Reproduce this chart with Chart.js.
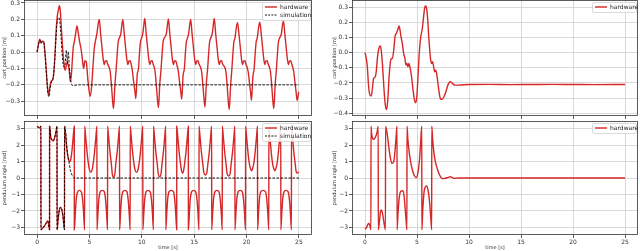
<!DOCTYPE html>
<html><head><meta charset="utf-8">
<script src="https://cdn.jsdelivr.net/npm/chart.js@4.4.1/dist/chart.umd.min.js"></script>
<style>
html,body{margin:0;padding:0;background:#fff;width:640px;height:251px;overflow:hidden}
canvas{position:absolute}
</style></head><body>
<canvas id="tl" width="320" height="119" style="left:0px;top:0px"></canvas>
<canvas id="bl" width="320" height="132" style="left:0px;top:119px"></canvas>
<canvas id="tr" width="310" height="119" style="left:330px;top:0px"></canvas>
<canvas id="br" width="310" height="132" style="left:330px;top:119px"></canvas>
<script>
// ---------- data (time [s], value) ----------
const timeTicks = [0, 5, 10, 15, 20, 25];
const cartTicksLeft = [-0.3, -0.2, -0.1, 0.0, 0.1, 0.2, 0.3];
const cartTicksRight = [-0.4, -0.3, -0.2, -0.1, 0.0, 0.1, 0.2, 0.3];
const angleTicks = [-3, -2, -1, 0, 1, 2, 3];

const cartHardwareLeft = [[0,0.0],[0.095,0.033],[0.254,0.078],[0.381,0.057],[0.508,0.067],[0.635,0.063],[0.762,-0.01],[0.889,-0.12],[1.016,-0.23],[1.111,-0.26],[1.206,-0.216],[1.333,-0.18],[1.492,-0.167],[1.587,-0.13],[1.714,-0.01],[1.81,0.124],[1.905,0.206],[2.032,0.257],[2.127,0.284],[2.222,0.247],[2.349,0.114],[2.476,-0.008],[2.603,-0.09],[2.698,-0.11],[2.794,-0.08],[2.889,-0.06],[2.984,-0.08],[3.079,-0.12],[3.175,-0.18],[3.27,-0.14],[3.365,-0.05],[3.46,0.033],[3.556,0.063],[3.683,0.114],[3.81,0.16],[3.937,0.114],[4.063,0.063],[4.19,0.022],[4.317,-0.04],[4.444,-0.1],[4.571,-0.053],[4.698,-0.06],[4.825,-0.15],[4.952,-0.23],[5.079,-0.27],[5.206,-0.21],[5.333,-0.09],[5.46,0.022],[5.587,0.073],[5.714,0.114],[5.841,0.176],[5.937,0.2],
[6.063,0.114],[6.19,0.033],[6.317,-0.045],[6.413,-0.076],[6.508,-0.055],[6.635,-0.053],[6.73,-0.073],[6.984,-0.12],[7.111,-0.212],[7.206,-0.294],[7.302,-0.345],
[7.429,-0.202],[7.556,-0.1],[7.651,-0.008],[7.746,0.063],[7.841,0.084],[8.0,0.114],[8.095,0.165],[8.19,0.2],
[8.317,0.114],[8.444,0.033],[8.571,-0.045],[8.667,-0.076],[8.762,-0.055],[8.889,-0.053],[8.984,-0.073],[9.111,-0.12],[9.238,-0.192],[9.333,-0.233],[9.429,-0.284],
[9.556,-0.141],[9.683,-0.1],[9.778,-0.008],[9.873,0.063],[9.968,0.084],[10.095,0.114],[10.19,0.165],[10.286,0.206],
[10.413,0.114],[10.54,0.033],[10.667,-0.045],[10.762,-0.076],[10.857,-0.055],[10.984,-0.053],[11.079,-0.073],[11.27,-0.12],[11.397,-0.212],[11.492,-0.288],[11.587,-0.339],
[11.714,-0.196],[11.841,-0.1],[11.937,-0.008],[12.032,0.063],[12.127,0.084],[12.349,0.114],[12.444,0.165],[12.54,0.202],
[12.667,0.114],[12.794,0.033],[12.921,-0.045],[13.016,-0.076],[13.111,-0.055],[13.238,-0.053],[13.333,-0.073],[13.492,-0.12],[13.619,-0.192],[13.714,-0.238],[13.81,-0.288],
[13.937,-0.145],[14.063,-0.1],[14.159,-0.008],[14.254,0.063],[14.349,0.084],[14.476,0.114],[14.571,0.165],[14.667,0.2],
[14.794,0.114],[14.921,0.033],[15.048,-0.045],[15.143,-0.076],[15.238,-0.055],[15.365,-0.053],[15.46,-0.073],[15.714,-0.12],[15.841,-0.212],[15.937,-0.284],[16.032,-0.335],
[16.159,-0.192],[16.286,-0.1],[16.381,-0.008],[16.476,0.063],[16.571,0.084],[16.73,0.114],[16.825,0.165],[16.921,0.206],
[17.048,0.114],[17.175,0.033],[17.302,-0.045],[17.397,-0.076],[17.492,-0.055],[17.619,-0.053],[17.714,-0.073],[18.032,-0.12],[18.159,-0.212],[18.254,-0.3],[18.349,-0.351],
[18.476,-0.208],[18.603,-0.1],[18.698,-0.008],[18.794,0.063],[18.889,0.084],[18.952,0.114],[19.048,0.16],[19.143,0.18],
[19.27,0.114],[19.397,0.033],[19.524,-0.045],[19.619,-0.076],[19.714,-0.055],[19.841,-0.053],[19.937,-0.073],[20.159,-0.12],[20.286,-0.192],[20.381,-0.243],[20.476,-0.294],
[20.603,-0.151],[20.73,-0.1],[20.825,-0.008],[20.921,0.063],[21.016,0.084],[21.079,0.114],[21.175,0.16],[21.27,0.182],
[21.397,0.114],[21.524,0.033],[21.651,-0.045],[21.746,-0.076],[21.841,-0.055],[21.968,-0.053],[22.063,-0.073],[22.286,-0.12],[22.413,-0.212],[22.508,-0.294],[22.603,-0.345],
[22.73,-0.202],[22.857,-0.1],[22.952,-0.008],[23.048,0.063],[23.143,0.084],[23.333,0.114],[23.429,0.165],[23.524,0.19],
[23.651,0.114],[23.778,0.033],[23.905,-0.045],[24.0,-0.076],[24.095,-0.055],[24.222,-0.053],[24.317,-0.073],[24.508,-0.12],[24.635,-0.192],[24.73,-0.243],[24.825,-0.294],[24.984,-0.243]];

const cartSimulationLeft = [[0,0.0],[0.095,0.033],[0.254,0.073],[0.381,0.053],[0.508,0.065],[0.635,0.059],[0.762,-0.018],[0.889,-0.135],[1.016,-0.243],[1.143,-0.273],[1.238,-0.229],[1.365,-0.182],[1.492,-0.167],[1.587,-0.135],[1.714,-0.018],[1.81,0.094],[1.905,0.176],[2.0,0.206],[2.063,0.212],[2.159,0.196],[2.286,0.094],[2.413,-0.029],[2.54,-0.09],[2.667,-0.08],[2.794,0.012],[2.889,-0.069],[2.984,0.002],[3.079,-0.09],[3.238,-0.182],[3.397,-0.204],[4,-0.2],[6,-0.2],[8,-0.2],[10,-0.2],[12,-0.2],[14,-0.2],[16,-0.2],[18,-0.2],[20,-0.2],[22,-0.2],[24,-0.2],[25,-0.2]];

const angleHardwareLeft = [[0,3.14],[0.127,3.07],[0.254,3.03],[0.365,3.14],[0.368,-3.14],[0.508,-3.05],[0.698,-2.91],[0.889,-2.71],[1.016,-2.61],[1.111,-2.85],[1.19,-3.14],[1.194,3.14],[1.302,2.51],[1.429,2.30],[1.556,2.26],[1.683,2.46],[1.81,2.81],[1.905,3.14],[1.908,-3.14],[2.0,-2.55],[2.127,-1.94],[2.222,-1.78],[2.349,-1.90],[2.476,-2.34],[2.619,-3.14],[2.622,3.14],[2.73,2.61],[2.825,1.90],[2.921,1.39],[3.016,1.09],[3.111,0.99],[3.206,1.09],[3.302,1.49],[3.397,2.10],[3.492,2.81],[3.552,3.14],
[3.556,-3.14],[3.651,-2.14],[3.746,-1.23],[3.873,-0.83],[4.048,-0.75],[4.222,-0.83],[4.349,-1.33],[4.444,-2.14],[4.54,-3.14],
[4.543,3.14],[4.638,2.51],[4.765,1.6],[4.893,0.9],[5.003,0.49],[5.129,0.34],[5.254,0.49],[5.364,0.9],[5.492,1.6],[5.619,2.51],[5.714,3.14],
[5.717,-3.14],[5.81,-2.14],[5.905,-1.23],[6.032,-0.83],[6.222,-0.75],[6.413,-0.83],[6.54,-1.33],[6.635,-2.14],[6.73,-3.14],
[6.733,3.14],[6.828,2.51],[6.955,1.6],[7.083,0.9],[7.193,0.19],[7.303,0.04],[7.413,0.19],[7.523,0.9],[7.651,1.6],[7.778,2.51],[7.873,3.14],
[7.876,-3.14],[7.968,-2.14],[8.063,-1.23],[8.19,-0.83],[8.381,-0.75],[8.571,-0.83],[8.698,-1.33],[8.794,-2.14],[8.889,-3.14],
[8.892,3.14],[8.987,2.51],[9.114,1.6],[9.242,0.9],[9.352,0.49],[9.494,0.34],[9.635,0.49],[9.745,0.9],[9.873,1.6],[10.0,2.51],[10.095,3.14],
[10.098,-3.14],[10.19,-2.14],[10.286,-1.23],[10.413,-0.83],[10.603,-0.75],[10.794,-0.83],[10.921,-1.33],[11.016,-2.14],[11.111,-3.14],
[11.114,3.14],[11.209,2.51],[11.336,1.6],[11.464,0.9],[11.574,0.23],[11.7,0.08],[11.826,0.23],[11.936,0.9],[12.064,1.6],[12.191,2.51],[12.286,3.14],
[12.289,-3.14],[12.381,-2.14],[12.476,-1.23],[12.603,-0.83],[12.81,-0.75],[13.016,-0.83],[13.143,-1.33],[13.238,-2.14],[13.333,-3.14],
[13.337,3.14],[13.432,2.51],[13.559,1.6],[13.687,0.9],[13.797,0.43],[13.89,0.28],[13.984,0.43],[14.094,0.9],[14.222,1.6],[14.349,2.51],[14.444,3.14],
[14.448,-3.14],[14.54,-2.14],[14.635,-1.23],[14.762,-0.83],[14.952,-0.75],[15.143,-0.83],[15.27,-1.33],[15.365,-2.14],[15.46,-3.14],
[15.463,3.14],[15.558,2.51],[15.685,1.6],[15.813,0.9],[15.923,0.33],[16.065,0.18],[16.207,0.33],[16.317,0.9],[16.445,1.6],[16.572,2.51],[16.667,3.14],
[16.67,-3.14],[16.762,-2.14],[16.857,-1.23],[16.984,-0.83],[17.175,-0.75],[17.365,-0.83],[17.492,-1.33],[17.587,-2.14],[17.683,-3.14],
[17.686,3.14],[17.781,2.51],[17.908,1.6],[18.036,0.9],[18.146,0.27],[18.288,0.12],[18.429,0.27],[18.539,0.9],[18.667,1.6],[18.794,2.51],[18.889,3.14],
[18.892,-3.14],[18.984,-2.14],[19.079,-1.23],[19.206,-0.83],[19.397,-0.75],[19.587,-0.83],[19.714,-1.33],[19.81,-2.14],[19.905,-3.14],
[19.908,3.14],[20.003,2.51],[20.13,1.6],[20.258,0.9],[20.368,0.59],[20.478,0.44],[20.588,0.59],[20.698,0.9],[20.826,1.6],[20.953,2.51],[21.048,3.14],
[21.051,-3.14],[21.143,-2.14],[21.238,-1.23],[21.365,-0.83],[21.587,-0.75],[21.81,-0.83],[21.937,-1.33],[22.032,-2.14],[22.127,-3.14],
[22.13,3.14],[22.225,2.51],[22.352,1.6],[22.48,0.9],[22.59,0.59],[22.7,0.44],[22.81,0.59],[22.92,0.9],[23.048,1.6],[23.175,2.51],[23.27,3.14],
[23.273,-3.14],[23.365,-2.14],[23.46,-1.23],[23.587,-0.83],[23.778,-0.75],[23.968,-0.83],[24.095,-1.33],[24.19,-2.14],[24.286,-3.14],
[24.289,3.14],[24.384,2.51],[24.511,1.6],[24.639,0.9],[24.72,0.45],[24.8,0.3],[24.9,0.32],[24.984,0.38]];

const angleSimulationLeft = [[0,3.14],[0.127,3.07],[0.254,3.03],[0.365,3.14],[0.368,-3.14],[0.508,-3.05],[0.698,-2.91],[0.889,-2.71],[1.016,-2.61],[1.111,-2.85],[1.19,-3.14],[1.194,3.14],[1.302,2.51],[1.429,2.30],[1.556,2.26],[1.683,2.46],[1.81,2.81],[1.905,3.14],[1.908,-3.14],[2.0,-2.55],[2.127,-1.94],[2.222,-1.78],[2.349,-1.90],[2.476,-2.34],[2.619,-3.14],[2.622,3.14],[2.73,2.75],[2.857,1.7],[3.016,1.09],[3.175,0.48],[3.333,0.18],[3.49,0.03],[3.65,0.0],[6,0],[10,0],[15,0],[20,0],[25,0]];

const cartHardwareRight = [[0,0.0],[0.095,-0.026],[0.222,-0.093],[0.349,-0.225],[0.476,-0.28],[0.603,-0.287],[0.73,-0.225],[0.825,-0.17],[0.952,-0.163],[1.079,-0.126],[1.206,-0.026],[1.333,0.029],[1.46,0.044],[1.556,0.018],[1.683,-0.082],[1.81,-0.225],[1.937,-0.336],[2.063,-0.375],[2.19,-0.313],[2.317,-0.159],[2.444,-0.06],[2.54,-0.038],[2.635,-0.038],[2.762,0.018],[2.889,0.106],[3.016,0.128],[3.143,0.15],[3.27,0.177],[3.365,0.15],[3.46,0.106],[3.587,0.062],[3.714,-0.004],[3.841,-0.038],[3.937,-0.082],[4.032,-0.071],[4.127,-0.093],[4.222,-0.071],[4.349,-0.104],[4.476,-0.159],[4.603,-0.236],[4.73,-0.302],[4.857,-0.331],[4.984,-0.291],[5.111,-0.137],[5.238,0.018],[5.365,0.106],[5.492,0.15],[5.619,0.227],[5.746,0.3],[5.841,0.309],[5.937,0.287],[6.032,0.216],[6.127,0.106],[6.222,0.018],[6.317,-0.049],[6.413,-0.071],[6.508,-0.06],[6.603,-0.093],[6.698,-0.126],[6.794,-0.115],[6.889,-0.137],[7.016,-0.203],[7.143,-0.269],[7.27,-0.307],[7.429,-0.307],[7.587,-0.291],[7.778,-0.258],[7.968,-0.214],[8.19,-0.192],[8.413,-0.203],[8.635,-0.214],[8.952,-0.214],[10,-0.21],[12,-0.209],[14,-0.211],[16,-0.21],[18,-0.209],[20,-0.21],[22,-0.211],[25,-0.21]];

const angleHardwareRight = [[0,-3.11],[0.159,-2.99],[0.286,-2.79],[0.381,-2.75],[0.476,-2.91],[0.571,-3.14],[0.577,3.14],[0.635,2.71],[0.73,2.4],[0.825,2.34],[0.921,2.4],[1.048,2.55],[1.175,2.81],[1.27,3.14],[1.276,-3.14],[1.397,-2.55],[1.492,-2.04],[1.587,-1.94],[1.683,-2.14],[1.81,-2.65],[1.968,-3.14],[1.975,3.14],[2.127,2.71],[2.286,1.9],[2.444,1.19],[2.603,0.89],[2.762,0.99],[2.921,1.9],[3.016,2.71],[3.079,3.14],[3.086,-3.14],[3.175,-2.14],[3.302,-1.13],[3.46,-0.79],[3.619,-0.77],[3.746,-1.03],[3.873,-1.94],[4.0,-2.95],[4.032,-3.14],[4.038,3.14],[4.127,2.3],[4.286,1.39],[4.444,0.79],[4.603,0.38],[4.762,0.12],[4.921,0.02],[5.079,0.28],[5.238,1.09],[5.365,2.3],[5.46,3.14],[5.467,-3.14],[5.556,-1.94],[5.683,-0.83],[5.81,-0.53],[5.937,-0.48],[6.063,-0.73],[6.19,-1.33],[6.317,-2.34],[6.413,-3.14],[6.419,3.14],[6.508,2.3],[6.635,1.49],[6.762,0.99],[6.889,0.69],[7.079,0.32],[7.302,0.04],[7.46,-0.04],[7.683,-0.02],[8.0,0.04],[8.222,0.08],[8.413,0.02],[8.635,-0.02],[8.952,0.0],[10,0],[15,0],[20,0],[25,0]];

// ---------- styling ----------
const RED = '#d62728';
const GRID = '#cfcfcf';
const TXT = '#333';
const tickFont = { family: 'DejaVu Sans', size: 6 };
const titleFont = { family: 'DejaVu Sans', size: 5 };
const xy = a => a.map(([x, y]) => ({ x, y }));
const fmt1 = v => (v < 0 ? '\u2212' : '') + Math.abs(v).toFixed(1);
const fmt0 = v => (v < 0 ? '\u2212' : '') + Math.abs(Math.round(v));

function decor(items, boxW) {
  return {
    id: 'decor',
    afterDatasetsDraw(chart) {
      const { ctx, chartArea: a } = chart;
      ctx.save();
      ctx.strokeStyle = '#333'; ctx.lineWidth = 0.8;
      ctx.strokeRect(a.left + 0.5, a.top + 0.5, a.right - a.left - 1, a.bottom - a.top - 1);
      ctx.restore();
    },
    afterDraw(chart) {
      const { ctx, chartArea: a } = chart;
      const rowH = 8, h = items.length * rowH + 2;
      const x0 = a.right - boxW - 2, y0 = a.top + 2;
      ctx.save();
      ctx.beginPath();
      ctx.roundRect(x0 + 0.5, y0 + 0.5, boxW, h, 1.5);
      ctx.fillStyle = 'rgba(255,255,255,0.85)'; ctx.fill();
      ctx.strokeStyle = '#d0d0d0'; ctx.lineWidth = 0.8; ctx.stroke();
      items.forEach((it, i) => {
        const yy = y0 + 5 + i * rowH;
        ctx.beginPath(); ctx.moveTo(x0 + 3, yy); ctx.lineTo(x0 + 15, yy);
        ctx.strokeStyle = it.color; ctx.lineWidth = it.width; ctx.setLineDash(it.dash || []);
        ctx.stroke(); ctx.setLineDash([]);
        ctx.fillStyle = '#222'; ctx.font = '6px "DejaVu Sans"'; ctx.textBaseline = 'middle';
        ctx.fillText(it.label, x0 + 18, yy + 0.5);
      });
      ctx.restore();
    }
  };
}

function panel(id, o) {
  return new Chart(document.getElementById(id), {
    type: 'line',
    data: { datasets: o.datasets },
    options: {
      responsive: false, animation: false, devicePixelRatio: 1, events: [],
      layout: { autoPadding: false, padding: { left: 0, right: o.padR, top: o.padT, bottom: 0 } },
      plugins: { legend: { display: false }, tooltip: { enabled: false } },
      elements: { point: { radius: 0 }, line: { cubicInterpolationMode: 'monotone' } },
      scales: {
        x: {
          type: 'linear', min: -1.25, max: 26.25,
          afterBuildTicks: s => { s.ticks = timeTicks.map(v => ({ value: v })); },
          afterFit: s => { s.height = o.xH; s.paddingLeft = 0; s.paddingRight = 0; },
          ticks: { display: o.showX, font: tickFont, color: TXT, padding: 1, maxRotation: 0, autoSkip: false, callback: v => String(v) },
          grid: { color: GRID, lineWidth: 0.8, drawTicks: true, tickLength: 3, tickColor: '#333' },
          border: { display: false },
          title: { display: o.showX, text: 'time [s]', font: titleFont, color: TXT, padding: 0 }
        },
        y: {
          min: o.yMin, max: o.yMax,
          afterBuildTicks: s => { s.ticks = o.yTicks.map(v => ({ value: v })); },
          afterFit: s => { s.width = o.yW; s.paddingTop = 0; s.paddingBottom = 0; },
          ticks: { font: tickFont, color: TXT, padding: 1, autoSkip: false, callback: o.fmt },
          grid: { color: GRID, lineWidth: 0.8, drawTicks: true, tickLength: 3, tickColor: '#333' },
          border: { display: false },
          title: { display: true, text: o.yTitle, font: titleFont, color: TXT, padding: { top: 2, bottom: 0 } }
        }
      }
    },
    plugins: [decor(o.legend, o.legendW)]
  });
}

const hwLeg = { label: 'hardware', color: RED, width: 1.4 };
const simLeg = { label: 'simulation', color: '#000', width: 0.9, dash: [2, 1.2] };
const hwDs = d => ({ label: 'hardware', data: xy(d), borderColor: RED, borderWidth: 1.4, order: 1 });
const simDs = d => ({ label: 'simulation', data: xy(d), borderColor: '#000', borderWidth: 0.9, borderDash: [2.5, 1.5], order: 0 });

panel('tl', { datasets: [hwDs(cartHardwareLeft), simDs(cartSimulationLeft)], padR: 8, padT: 0, xH: 3, showX: false,
  yMin: -0.39, yMax: 0.318, yTicks: cartTicksLeft, yW: 24, fmt: fmt1, yTitle: 'cart position [m]', legend: [hwLeg, simLeg], legendW: 48 });
panel('bl', { datasets: [hwDs(angleHardwareLeft), simDs(angleSimulationLeft)], padR: 8, padT: 2, xH: 16, showX: true,
  yMin: -3.456, yMax: 3.456, yTicks: angleTicks, yW: 24, fmt: fmt0, yTitle: 'pendulum angle [rad]', legend: [hwLeg, simLeg], legendW: 48 });
panel('tr', { datasets: [hwDs(cartHardwareRight)], padR: 2, padT: 0, xH: 3, showX: false,
  yMin: -0.418, yMax: 0.348, yTicks: cartTicksRight, yW: 22, fmt: fmt1, yTitle: 'cart position [m]', legend: [hwLeg], legendW: 44 });
panel('br', { datasets: [hwDs(angleHardwareRight)], padR: 2, padT: 2, xH: 16, showX: true,
  yMin: -3.456, yMax: 3.456, yTicks: angleTicks, yW: 22, fmt: fmt0, yTitle: 'pendulum angle [rad]', legend: [hwLeg], legendW: 44 });
</script>
</body></html>
